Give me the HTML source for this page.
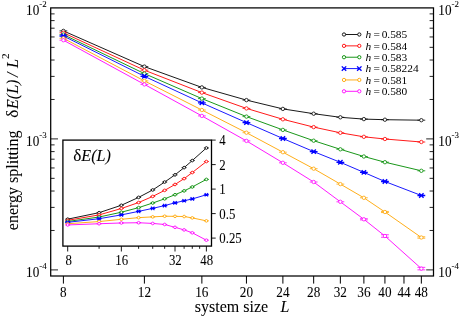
<!DOCTYPE html>
<html><head><meta charset="utf-8"><title>energy splitting</title>
<style>html,body{margin:0;padding:0;background:#fff;overflow:hidden}svg{display:block;will-change:transform;transform:translateZ(0)}text{font-family:"Liberation Serif",serif}</style>
</head><body>
<svg width="459" height="316" viewBox="0 0 459 316">
<rect width="459" height="316" fill="#fff"/>
<g fill="none">
<polyline points="63.40,30.90 144.40,66.60 201.87,87.40 246.45,100.10 282.88,108.90 313.67,113.70 340.35,117.30 363.88,119.10 384.93,119.70 421.35,120.20" stroke="#000" stroke-width="0.9"/>
<path d="M59.50 30.90H67.30" stroke="#000" stroke-width="0.8"/><circle cx="63.40" cy="30.90" r="1.7" fill="#fff" stroke="#000" stroke-width="0.8"/>
<path d="M140.50 66.60H148.30" stroke="#000" stroke-width="0.8"/><circle cx="144.40" cy="66.60" r="1.7" fill="#fff" stroke="#000" stroke-width="0.8"/>
<path d="M197.97 87.40H205.77" stroke="#000" stroke-width="0.8"/><circle cx="201.87" cy="87.40" r="1.7" fill="#fff" stroke="#000" stroke-width="0.8"/>
<path d="M242.55 100.10H250.35" stroke="#000" stroke-width="0.8"/><circle cx="246.45" cy="100.10" r="1.7" fill="#fff" stroke="#000" stroke-width="0.8"/>
<path d="M278.98 108.90H286.78" stroke="#000" stroke-width="0.8"/><circle cx="282.88" cy="108.90" r="1.7" fill="#fff" stroke="#000" stroke-width="0.8"/>
<path d="M309.77 113.70H317.57" stroke="#000" stroke-width="0.8"/><circle cx="313.67" cy="113.70" r="1.7" fill="#fff" stroke="#000" stroke-width="0.8"/>
<path d="M336.45 117.30H344.25" stroke="#000" stroke-width="0.8"/><circle cx="340.35" cy="117.30" r="1.7" fill="#fff" stroke="#000" stroke-width="0.8"/>
<path d="M359.98 119.10H367.78" stroke="#000" stroke-width="0.8"/><circle cx="363.88" cy="119.10" r="1.7" fill="#fff" stroke="#000" stroke-width="0.8"/>
<path d="M381.03 119.70H388.83" stroke="#000" stroke-width="0.8"/><circle cx="384.93" cy="119.70" r="1.7" fill="#fff" stroke="#000" stroke-width="0.8"/>
<path d="M417.45 120.20H425.25" stroke="#000" stroke-width="0.8"/><circle cx="421.35" cy="120.20" r="1.7" fill="#fff" stroke="#000" stroke-width="0.8"/>
<polyline points="63.40,32.80 144.40,70.20 201.87,92.60 246.45,108.40 282.88,119.30 313.67,127.10 340.35,132.80 363.88,136.80 384.93,139.00 421.35,142.00" stroke="#f00" stroke-width="0.9"/>
<path d="M59.50 32.80H67.30" stroke="#f00" stroke-width="0.8"/><circle cx="63.40" cy="32.80" r="1.7" fill="#fff" stroke="#f00" stroke-width="0.8"/>
<path d="M140.50 70.20H148.30" stroke="#f00" stroke-width="0.8"/><circle cx="144.40" cy="70.20" r="1.7" fill="#fff" stroke="#f00" stroke-width="0.8"/>
<path d="M197.97 92.60H205.77" stroke="#f00" stroke-width="0.8"/><circle cx="201.87" cy="92.60" r="1.7" fill="#fff" stroke="#f00" stroke-width="0.8"/>
<path d="M242.55 108.40H250.35" stroke="#f00" stroke-width="0.8"/><circle cx="246.45" cy="108.40" r="1.7" fill="#fff" stroke="#f00" stroke-width="0.8"/>
<path d="M278.98 119.30H286.78" stroke="#f00" stroke-width="0.8"/><circle cx="282.88" cy="119.30" r="1.7" fill="#fff" stroke="#f00" stroke-width="0.8"/>
<path d="M309.77 127.10H317.57" stroke="#f00" stroke-width="0.8"/><circle cx="313.67" cy="127.10" r="1.7" fill="#fff" stroke="#f00" stroke-width="0.8"/>
<path d="M336.45 132.80H344.25" stroke="#f00" stroke-width="0.8"/><circle cx="340.35" cy="132.80" r="1.7" fill="#fff" stroke="#f00" stroke-width="0.8"/>
<path d="M359.98 136.80H367.78" stroke="#f00" stroke-width="0.8"/><circle cx="363.88" cy="136.80" r="1.7" fill="#fff" stroke="#f00" stroke-width="0.8"/>
<path d="M381.03 139.00H388.83" stroke="#f00" stroke-width="0.8"/><circle cx="384.93" cy="139.00" r="1.7" fill="#fff" stroke="#f00" stroke-width="0.8"/>
<path d="M417.45 142.00H425.25" stroke="#f00" stroke-width="0.8"/><circle cx="421.35" cy="142.00" r="1.7" fill="#fff" stroke="#f00" stroke-width="0.8"/>
<polyline points="63.40,34.60 144.40,73.60 201.87,98.60 246.45,116.60 282.88,129.90 313.67,140.70 340.35,149.30 363.88,156.50 384.93,162.20 421.35,170.80" stroke="#008b00" stroke-width="0.9"/>
<path d="M59.50 34.60H67.30" stroke="#008b00" stroke-width="0.8"/><circle cx="63.40" cy="34.60" r="1.7" fill="#fff" stroke="#008b00" stroke-width="0.8"/>
<path d="M140.50 73.60H148.30" stroke="#008b00" stroke-width="0.8"/><circle cx="144.40" cy="73.60" r="1.7" fill="#fff" stroke="#008b00" stroke-width="0.8"/>
<path d="M197.97 98.60H205.77" stroke="#008b00" stroke-width="0.8"/><circle cx="201.87" cy="98.60" r="1.7" fill="#fff" stroke="#008b00" stroke-width="0.8"/>
<path d="M242.55 116.60H250.35" stroke="#008b00" stroke-width="0.8"/><circle cx="246.45" cy="116.60" r="1.7" fill="#fff" stroke="#008b00" stroke-width="0.8"/>
<path d="M278.98 129.90H286.78" stroke="#008b00" stroke-width="0.8"/><circle cx="282.88" cy="129.90" r="1.7" fill="#fff" stroke="#008b00" stroke-width="0.8"/>
<path d="M309.77 140.70H317.57" stroke="#008b00" stroke-width="0.8"/><circle cx="313.67" cy="140.70" r="1.7" fill="#fff" stroke="#008b00" stroke-width="0.8"/>
<path d="M336.45 149.30H344.25" stroke="#008b00" stroke-width="0.8"/><circle cx="340.35" cy="149.30" r="1.7" fill="#fff" stroke="#008b00" stroke-width="0.8"/>
<path d="M359.98 156.50H367.78" stroke="#008b00" stroke-width="0.8"/><circle cx="363.88" cy="156.50" r="1.7" fill="#fff" stroke="#008b00" stroke-width="0.8"/>
<path d="M381.03 162.20H388.83" stroke="#008b00" stroke-width="0.8"/><circle cx="384.93" cy="162.20" r="1.7" fill="#fff" stroke="#008b00" stroke-width="0.8"/>
<path d="M417.45 170.80H425.25" stroke="#008b00" stroke-width="0.8"/><circle cx="421.35" cy="170.80" r="1.7" fill="#fff" stroke="#008b00" stroke-width="0.8"/>
<polyline points="63.40,36.00 144.40,76.30 201.87,102.90 246.45,122.60 282.88,138.50 313.67,151.60 340.35,162.30 363.88,172.40 384.93,181.50 421.35,195.50" stroke="#00f" stroke-width="0.9"/>
<path d="M59.50 36.00H67.30M61.20 33.80L65.60 38.20M61.20 38.20L65.60 33.80" stroke="#00f" stroke-width="1.35" fill="none"/>
<path d="M140.50 76.30H148.30M142.20 74.10L146.60 78.50M142.20 78.50L146.60 74.10" stroke="#00f" stroke-width="1.35" fill="none"/>
<path d="M197.97 102.90H205.77M199.67 100.70L204.07 105.10M199.67 105.10L204.07 100.70" stroke="#00f" stroke-width="1.35" fill="none"/>
<path d="M242.55 122.60H250.35M244.25 120.40L248.65 124.80M244.25 124.80L248.65 120.40" stroke="#00f" stroke-width="1.35" fill="none"/>
<path d="M278.98 138.50H286.78M280.68 136.30L285.08 140.70M280.68 140.70L285.08 136.30" stroke="#00f" stroke-width="1.35" fill="none"/>
<path d="M309.77 151.60H317.57M311.47 149.40L315.87 153.80M311.47 153.80L315.87 149.40" stroke="#00f" stroke-width="1.35" fill="none"/>
<path d="M336.45 162.30H344.25M338.15 160.10L342.55 164.50M338.15 164.50L342.55 160.10" stroke="#00f" stroke-width="1.35" fill="none"/>
<path d="M359.98 172.40H367.78M361.68 170.20L366.08 174.60M361.68 174.60L366.08 170.20" stroke="#00f" stroke-width="1.35" fill="none"/>
<path d="M381.03 181.50H388.83M382.73 179.30L387.13 183.70M382.73 183.70L387.13 179.30" stroke="#00f" stroke-width="1.35" fill="none"/>
<path d="M417.45 195.50H425.25M419.15 193.30L423.55 197.70M419.15 197.70L423.55 193.30" stroke="#00f" stroke-width="1.35" fill="none"/>
<polyline points="63.40,38.30 144.40,80.90 201.87,110.00 246.45,132.70 282.88,152.20 313.67,168.70 340.35,184.10 363.88,197.80 384.93,212.00 421.35,237.50" stroke="#ffa500" stroke-width="0.9"/>
<path d="M59.50 38.30H67.30" stroke="#ffa500" stroke-width="0.8"/><circle cx="63.40" cy="38.30" r="1.7" fill="#fff" stroke="#ffa500" stroke-width="0.8"/>
<path d="M140.50 80.90H148.30" stroke="#ffa500" stroke-width="0.8"/><circle cx="144.40" cy="80.90" r="1.7" fill="#fff" stroke="#ffa500" stroke-width="0.8"/>
<path d="M197.97 110.00H205.77" stroke="#ffa500" stroke-width="0.8"/><circle cx="201.87" cy="110.00" r="1.7" fill="#fff" stroke="#ffa500" stroke-width="0.8"/>
<path d="M242.55 132.70H250.35" stroke="#ffa500" stroke-width="0.8"/><circle cx="246.45" cy="132.70" r="1.7" fill="#fff" stroke="#ffa500" stroke-width="0.8"/>
<path d="M278.98 152.20H286.78" stroke="#ffa500" stroke-width="0.8"/><circle cx="282.88" cy="152.20" r="1.7" fill="#fff" stroke="#ffa500" stroke-width="0.8"/>
<path d="M309.77 168.70H317.57" stroke="#ffa500" stroke-width="0.8"/><circle cx="313.67" cy="168.70" r="1.7" fill="#fff" stroke="#ffa500" stroke-width="0.8"/>
<path d="M336.45 184.10H344.25" stroke="#ffa500" stroke-width="0.8"/><circle cx="340.35" cy="184.10" r="1.7" fill="#fff" stroke="#ffa500" stroke-width="0.8"/>
<path d="M359.98 197.80H367.78" stroke="#ffa500" stroke-width="0.8"/><circle cx="363.88" cy="197.80" r="1.7" fill="#fff" stroke="#ffa500" stroke-width="0.8"/>
<path d="M381.03 211.45H388.83M381.03 212.55H388.83M384.93 211.45V212.55" stroke="#ffa500" stroke-width="0.8"/><circle cx="384.93" cy="212.00" r="1.7" fill="#fff" stroke="#ffa500" stroke-width="0.8"/>
<path d="M417.45 236.80H425.25M417.45 238.20H425.25M421.35 236.80V238.20" stroke="#ffa500" stroke-width="0.8"/><circle cx="421.35" cy="237.50" r="1.7" fill="#fff" stroke="#ffa500" stroke-width="0.8"/>
<polyline points="63.40,40.20 144.40,84.40 201.87,115.90 246.45,140.90 282.88,162.80 313.67,182.00 340.35,201.80 363.88,219.30 384.93,236.00 421.35,268.60" stroke="#f0f" stroke-width="0.9"/>
<path d="M59.50 40.20H67.30" stroke="#f0f" stroke-width="0.8"/><circle cx="63.40" cy="40.20" r="1.7" fill="#fff" stroke="#f0f" stroke-width="0.8"/>
<path d="M140.50 84.40H148.30" stroke="#f0f" stroke-width="0.8"/><circle cx="144.40" cy="84.40" r="1.7" fill="#fff" stroke="#f0f" stroke-width="0.8"/>
<path d="M197.97 115.90H205.77" stroke="#f0f" stroke-width="0.8"/><circle cx="201.87" cy="115.90" r="1.7" fill="#fff" stroke="#f0f" stroke-width="0.8"/>
<path d="M242.55 140.90H250.35" stroke="#f0f" stroke-width="0.8"/><circle cx="246.45" cy="140.90" r="1.7" fill="#fff" stroke="#f0f" stroke-width="0.8"/>
<path d="M278.98 162.80H286.78" stroke="#f0f" stroke-width="0.8"/><circle cx="282.88" cy="162.80" r="1.7" fill="#fff" stroke="#f0f" stroke-width="0.8"/>
<path d="M309.77 182.00H317.57" stroke="#f0f" stroke-width="0.8"/><circle cx="313.67" cy="182.00" r="1.7" fill="#fff" stroke="#f0f" stroke-width="0.8"/>
<path d="M336.45 201.80H344.25" stroke="#f0f" stroke-width="0.8"/><circle cx="340.35" cy="201.80" r="1.7" fill="#fff" stroke="#f0f" stroke-width="0.8"/>
<path d="M359.98 218.70H367.78M359.98 219.90H367.78M363.88 218.70V219.90" stroke="#f0f" stroke-width="0.8"/><circle cx="363.88" cy="219.30" r="1.7" fill="#fff" stroke="#f0f" stroke-width="0.8"/>
<path d="M381.03 234.75H388.83M381.03 237.25H388.83M384.93 234.75V237.25" stroke="#f0f" stroke-width="0.8"/><circle cx="384.93" cy="236.00" r="1.7" fill="#fff" stroke="#f0f" stroke-width="0.8"/>
<path d="M417.45 267.35H425.25M417.45 269.85H425.25M421.35 267.35V269.85" stroke="#f0f" stroke-width="0.8"/><circle cx="421.35" cy="268.60" r="1.7" fill="#fff" stroke="#f0f" stroke-width="0.8"/>
</g>
<rect x="62.9" y="140.1" width="148.60" height="106.00" fill="#fff"/>
<g fill="none">
<polyline points="67.70,219.16 99.08,212.68 121.35,205.27 138.62,197.38 152.73,189.96 164.66,182.05 175.00,174.84 184.12,167.63 192.27,160.56 206.38,147.98" stroke="#000" stroke-width="0.9"/>
<path d="M65.20 219.16H70.20" stroke="#000" stroke-width="0.85"/><circle cx="67.70" cy="219.16" r="1.35" fill="#fff" stroke="#000" stroke-width="0.85"/>
<path d="M96.58 212.68H101.58" stroke="#000" stroke-width="0.85"/><circle cx="99.08" cy="212.68" r="1.35" fill="#fff" stroke="#000" stroke-width="0.85"/>
<path d="M118.85 205.27H123.85" stroke="#000" stroke-width="0.85"/><circle cx="121.35" cy="205.27" r="1.35" fill="#fff" stroke="#000" stroke-width="0.85"/>
<path d="M136.12 197.38H141.12" stroke="#000" stroke-width="0.85"/><circle cx="138.62" cy="197.38" r="1.35" fill="#fff" stroke="#000" stroke-width="0.85"/>
<path d="M150.23 189.96H155.23" stroke="#000" stroke-width="0.85"/><circle cx="152.73" cy="189.96" r="1.35" fill="#fff" stroke="#000" stroke-width="0.85"/>
<path d="M162.16 182.05H167.16" stroke="#000" stroke-width="0.85"/><circle cx="164.66" cy="182.05" r="1.35" fill="#fff" stroke="#000" stroke-width="0.85"/>
<path d="M172.50 174.84H177.50" stroke="#000" stroke-width="0.85"/><circle cx="175.00" cy="174.84" r="1.35" fill="#fff" stroke="#000" stroke-width="0.85"/>
<path d="M181.62 167.63H186.62" stroke="#000" stroke-width="0.85"/><circle cx="184.12" cy="167.63" r="1.35" fill="#fff" stroke="#000" stroke-width="0.85"/>
<path d="M189.77 160.56H194.77" stroke="#000" stroke-width="0.85"/><circle cx="192.27" cy="160.56" r="1.35" fill="#fff" stroke="#000" stroke-width="0.85"/>
<path d="M203.88 147.98H208.88" stroke="#000" stroke-width="0.85"/><circle cx="206.38" cy="147.98" r="1.35" fill="#fff" stroke="#000" stroke-width="0.85"/>
<polyline points="67.70,220.34 99.08,214.92 121.35,208.50 138.62,202.54 152.73,196.42 164.66,190.37 175.00,184.47 184.12,178.63 192.27,172.55 206.38,161.52" stroke="#f00" stroke-width="0.9"/>
<path d="M65.20 220.34H70.20" stroke="#f00" stroke-width="0.85"/><circle cx="67.70" cy="220.34" r="1.35" fill="#fff" stroke="#f00" stroke-width="0.85"/>
<path d="M96.58 214.92H101.58" stroke="#f00" stroke-width="0.85"/><circle cx="99.08" cy="214.92" r="1.35" fill="#fff" stroke="#f00" stroke-width="0.85"/>
<path d="M118.85 208.50H123.85" stroke="#f00" stroke-width="0.85"/><circle cx="121.35" cy="208.50" r="1.35" fill="#fff" stroke="#f00" stroke-width="0.85"/>
<path d="M136.12 202.54H141.12" stroke="#f00" stroke-width="0.85"/><circle cx="138.62" cy="202.54" r="1.35" fill="#fff" stroke="#f00" stroke-width="0.85"/>
<path d="M150.23 196.42H155.23" stroke="#f00" stroke-width="0.85"/><circle cx="152.73" cy="196.42" r="1.35" fill="#fff" stroke="#f00" stroke-width="0.85"/>
<path d="M162.16 190.37H167.16" stroke="#f00" stroke-width="0.85"/><circle cx="164.66" cy="190.37" r="1.35" fill="#fff" stroke="#f00" stroke-width="0.85"/>
<path d="M172.50 184.47H177.50" stroke="#f00" stroke-width="0.85"/><circle cx="175.00" cy="184.47" r="1.35" fill="#fff" stroke="#f00" stroke-width="0.85"/>
<path d="M181.62 178.63H186.62" stroke="#f00" stroke-width="0.85"/><circle cx="184.12" cy="178.63" r="1.35" fill="#fff" stroke="#f00" stroke-width="0.85"/>
<path d="M189.77 172.55H194.77" stroke="#f00" stroke-width="0.85"/><circle cx="192.27" cy="172.55" r="1.35" fill="#fff" stroke="#f00" stroke-width="0.85"/>
<path d="M203.88 161.52H208.88" stroke="#f00" stroke-width="0.85"/><circle cx="206.38" cy="161.52" r="1.35" fill="#fff" stroke="#f00" stroke-width="0.85"/>
<polyline points="67.70,221.46 99.08,217.03 121.35,212.22 138.62,207.63 152.73,203.01 164.66,198.82 175.00,194.72 184.12,190.87 192.27,186.96 206.38,179.42" stroke="#008b00" stroke-width="0.9"/>
<path d="M65.20 221.46H70.20" stroke="#008b00" stroke-width="0.85"/><circle cx="67.70" cy="221.46" r="1.35" fill="#fff" stroke="#008b00" stroke-width="0.85"/>
<path d="M96.58 217.03H101.58" stroke="#008b00" stroke-width="0.85"/><circle cx="99.08" cy="217.03" r="1.35" fill="#fff" stroke="#008b00" stroke-width="0.85"/>
<path d="M118.85 212.22H123.85" stroke="#008b00" stroke-width="0.85"/><circle cx="121.35" cy="212.22" r="1.35" fill="#fff" stroke="#008b00" stroke-width="0.85"/>
<path d="M136.12 207.63H141.12" stroke="#008b00" stroke-width="0.85"/><circle cx="138.62" cy="207.63" r="1.35" fill="#fff" stroke="#008b00" stroke-width="0.85"/>
<path d="M150.23 203.01H155.23" stroke="#008b00" stroke-width="0.85"/><circle cx="152.73" cy="203.01" r="1.35" fill="#fff" stroke="#008b00" stroke-width="0.85"/>
<path d="M162.16 198.82H167.16" stroke="#008b00" stroke-width="0.85"/><circle cx="164.66" cy="198.82" r="1.35" fill="#fff" stroke="#008b00" stroke-width="0.85"/>
<path d="M172.50 194.72H177.50" stroke="#008b00" stroke-width="0.85"/><circle cx="175.00" cy="194.72" r="1.35" fill="#fff" stroke="#008b00" stroke-width="0.85"/>
<path d="M181.62 190.87H186.62" stroke="#008b00" stroke-width="0.85"/><circle cx="184.12" cy="190.87" r="1.35" fill="#fff" stroke="#008b00" stroke-width="0.85"/>
<path d="M189.77 186.96H194.77" stroke="#008b00" stroke-width="0.85"/><circle cx="192.27" cy="186.96" r="1.35" fill="#fff" stroke="#008b00" stroke-width="0.85"/>
<path d="M203.88 179.42H208.88" stroke="#008b00" stroke-width="0.85"/><circle cx="206.38" cy="179.42" r="1.35" fill="#fff" stroke="#008b00" stroke-width="0.85"/>
<polyline points="67.70,222.33 99.08,218.71 121.35,214.90 138.62,211.36 152.73,208.35 164.66,205.59 175.00,202.80 184.12,200.75 192.27,198.95 206.38,194.76" stroke="#00f" stroke-width="0.9"/>
<path d="M65.10 222.33H70.30M66.00 220.63L69.40 224.03M66.00 224.03L69.40 220.63" stroke="#00f" stroke-width="1.15" fill="none"/>
<path d="M96.48 218.71H101.68M97.38 217.01L100.78 220.41M97.38 220.41L100.78 217.01" stroke="#00f" stroke-width="1.15" fill="none"/>
<path d="M118.75 214.90H123.95M119.65 213.20L123.05 216.60M119.65 216.60L123.05 213.20" stroke="#00f" stroke-width="1.15" fill="none"/>
<path d="M136.02 211.36H141.22M136.92 209.66L140.32 213.06M136.92 213.06L140.32 209.66" stroke="#00f" stroke-width="1.15" fill="none"/>
<path d="M150.13 208.35H155.33M151.03 206.65L154.43 210.05M151.03 210.05L154.43 206.65" stroke="#00f" stroke-width="1.15" fill="none"/>
<path d="M162.06 205.59H167.26M162.96 203.89L166.36 207.29M162.96 207.29L166.36 203.89" stroke="#00f" stroke-width="1.15" fill="none"/>
<path d="M172.40 202.80H177.60M173.30 201.10L176.70 204.50M173.30 204.50L176.70 201.10" stroke="#00f" stroke-width="1.15" fill="none"/>
<path d="M181.52 200.75H186.72M182.42 199.05L185.82 202.45M182.42 202.45L185.82 199.05" stroke="#00f" stroke-width="1.15" fill="none"/>
<path d="M189.67 198.95H194.87M190.57 197.25L193.97 200.65M190.57 200.65L193.97 197.25" stroke="#00f" stroke-width="1.15" fill="none"/>
<path d="M203.78 194.76H208.98M204.68 193.06L208.08 196.46M204.68 196.46L208.08 193.06" stroke="#00f" stroke-width="1.15" fill="none"/>
<polyline points="67.70,223.76 99.08,221.56 121.35,219.31 138.62,217.64 152.73,216.86 164.66,216.22 175.00,216.34 184.12,216.53 192.27,217.90 206.38,220.86" stroke="#ffa500" stroke-width="0.9"/>
<path d="M65.20 223.76H70.20" stroke="#ffa500" stroke-width="0.85"/><circle cx="67.70" cy="223.76" r="1.35" fill="#fff" stroke="#ffa500" stroke-width="0.85"/>
<path d="M96.58 221.56H101.58" stroke="#ffa500" stroke-width="0.85"/><circle cx="99.08" cy="221.56" r="1.35" fill="#fff" stroke="#ffa500" stroke-width="0.85"/>
<path d="M118.85 219.31H123.85" stroke="#ffa500" stroke-width="0.85"/><circle cx="121.35" cy="219.31" r="1.35" fill="#fff" stroke="#ffa500" stroke-width="0.85"/>
<path d="M136.12 217.64H141.12" stroke="#ffa500" stroke-width="0.85"/><circle cx="138.62" cy="217.64" r="1.35" fill="#fff" stroke="#ffa500" stroke-width="0.85"/>
<path d="M150.23 216.86H155.23" stroke="#ffa500" stroke-width="0.85"/><circle cx="152.73" cy="216.86" r="1.35" fill="#fff" stroke="#ffa500" stroke-width="0.85"/>
<path d="M162.16 216.22H167.16" stroke="#ffa500" stroke-width="0.85"/><circle cx="164.66" cy="216.22" r="1.35" fill="#fff" stroke="#ffa500" stroke-width="0.85"/>
<path d="M172.50 216.34H177.50" stroke="#ffa500" stroke-width="0.85"/><circle cx="175.00" cy="216.34" r="1.35" fill="#fff" stroke="#ffa500" stroke-width="0.85"/>
<path d="M181.62 216.53H186.62" stroke="#ffa500" stroke-width="0.85"/><circle cx="184.12" cy="216.53" r="1.35" fill="#fff" stroke="#ffa500" stroke-width="0.85"/>
<path d="M189.77 217.90H194.77" stroke="#ffa500" stroke-width="0.85"/><circle cx="192.27" cy="217.90" r="1.35" fill="#fff" stroke="#ffa500" stroke-width="0.85"/>
<path d="M203.88 220.86H208.88" stroke="#ffa500" stroke-width="0.85"/><circle cx="206.38" cy="220.86" r="1.35" fill="#fff" stroke="#ffa500" stroke-width="0.85"/>
<polyline points="67.70,224.94 99.08,223.74 121.35,222.97 138.62,222.73 152.73,223.45 164.66,224.48 175.00,227.34 184.12,229.89 192.27,232.81 206.38,240.18" stroke="#f0f" stroke-width="0.9"/>
<path d="M65.20 224.94H70.20" stroke="#f0f" stroke-width="0.85"/><circle cx="67.70" cy="224.94" r="1.35" fill="#fff" stroke="#f0f" stroke-width="0.85"/>
<path d="M96.58 223.74H101.58" stroke="#f0f" stroke-width="0.85"/><circle cx="99.08" cy="223.74" r="1.35" fill="#fff" stroke="#f0f" stroke-width="0.85"/>
<path d="M118.85 222.97H123.85" stroke="#f0f" stroke-width="0.85"/><circle cx="121.35" cy="222.97" r="1.35" fill="#fff" stroke="#f0f" stroke-width="0.85"/>
<path d="M136.12 222.73H141.12" stroke="#f0f" stroke-width="0.85"/><circle cx="138.62" cy="222.73" r="1.35" fill="#fff" stroke="#f0f" stroke-width="0.85"/>
<path d="M150.23 223.45H155.23" stroke="#f0f" stroke-width="0.85"/><circle cx="152.73" cy="223.45" r="1.35" fill="#fff" stroke="#f0f" stroke-width="0.85"/>
<path d="M162.16 224.48H167.16" stroke="#f0f" stroke-width="0.85"/><circle cx="164.66" cy="224.48" r="1.35" fill="#fff" stroke="#f0f" stroke-width="0.85"/>
<path d="M172.50 227.34H177.50" stroke="#f0f" stroke-width="0.85"/><circle cx="175.00" cy="227.34" r="1.35" fill="#fff" stroke="#f0f" stroke-width="0.85"/>
<path d="M181.62 229.89H186.62" stroke="#f0f" stroke-width="0.85"/><circle cx="184.12" cy="229.89" r="1.35" fill="#fff" stroke="#f0f" stroke-width="0.85"/>
<path d="M189.77 232.81H194.77" stroke="#f0f" stroke-width="0.85"/><circle cx="192.27" cy="232.81" r="1.35" fill="#fff" stroke="#f0f" stroke-width="0.85"/>
<path d="M203.88 240.18H208.88" stroke="#f0f" stroke-width="0.85"/><circle cx="206.38" cy="240.18" r="1.35" fill="#fff" stroke="#f0f" stroke-width="0.85"/>
</g>
<g stroke="#000" fill="none">
<path d="M50.7 138.90h7.3M433.5 138.90h-7.3M50.7 99.47h3.9M433.5 99.47h-3.9M50.7 76.40h3.9M433.5 76.40h-3.9M50.7 60.03h3.9M433.5 60.03h-3.9M50.7 47.33h3.9M433.5 47.33h-3.9M50.7 36.96h3.9M433.5 36.96h-3.9M50.7 28.19h3.9M433.5 28.19h-3.9M50.7 20.60h3.9M433.5 20.60h-3.9M50.7 13.89h3.9M433.5 13.89h-3.9M50.7 269.90h7.3M433.5 269.90h-7.3M50.7 230.47h3.9M433.5 230.47h-3.9M50.7 207.40h3.9M433.5 207.40h-3.9M50.7 191.03h3.9M433.5 191.03h-3.9M50.7 178.33h3.9M433.5 178.33h-3.9M50.7 167.96h3.9M433.5 167.96h-3.9M50.7 159.19h3.9M433.5 159.19h-3.9M50.7 151.60h3.9M433.5 151.60h-3.9M50.7 144.89h3.9M433.5 144.89h-3.9" stroke-width="0.95" stroke="#1a1a1a"/>
<path d="M63.40 276.0v7.6M144.40 276.0v7.6M201.87 276.0v7.6M246.45 276.0v7.6M282.88 276.0v7.6M313.67 276.0v7.6M340.35 276.0v7.6M363.88 276.0v7.6M384.93 276.0v7.6M403.97 276.0v7.6M421.35 276.0v7.6" stroke-width="1"/>
<rect x="50.7" y="7.9" width="382.80" height="268.10" stroke-width="1.25"/>
</g>
<g stroke="#000" fill="none">
<path d="M211.5 140.10h4.2M211.5 164.60h4.2M211.5 189.10h4.2M211.5 213.60h4.2M211.5 238.10h4.2M67.70 246.1v5.4M121.35 246.1v5.4M175.00 246.1v5.4M206.38 246.1v5.4M99.08 246.1v2.7M138.62 246.1v2.7M152.73 246.1v2.7M164.66 246.1v2.7M184.12 246.1v2.7M192.27 246.1v2.7M199.65 246.1v2.7" stroke-width="0.9"/>
<rect x="62.9" y="140.1" width="148.60" height="106.00" stroke-width="1.3"/>
</g>
<g font-family="Liberation Serif, serif" fill="#000" stroke="#000" stroke-width="0.05">
<text transform="translate(26.1 15.40) scale(1 1.03)" font-size="13.2">10<tspan font-size="8.9" dy="-8.4">-2</tspan></text>
<text transform="translate(438.3 15.40) scale(1 1.03)" font-size="13.2">10<tspan font-size="8.9" dy="-8.4">-2</tspan></text>
<text transform="translate(26.1 146.40) scale(1 1.03)" font-size="13.2">10<tspan font-size="8.9" dy="-8.4">-3</tspan></text>
<text transform="translate(438.3 146.40) scale(1 1.03)" font-size="13.2">10<tspan font-size="8.9" dy="-8.4">-3</tspan></text>
<text transform="translate(26.1 277.40) scale(1 1.03)" font-size="13.2">10<tspan font-size="8.9" dy="-8.4">-4</tspan></text>
<text transform="translate(438.3 277.40) scale(1 1.03)" font-size="13.2">10<tspan font-size="8.9" dy="-8.4">-4</tspan></text>
<text transform="translate(63.40 296.9) scale(1 1.03)" font-size="13.2" text-anchor="middle">8</text>
<text transform="translate(144.40 296.9) scale(1 1.03)" font-size="13.2" text-anchor="middle">12</text>
<text transform="translate(201.87 296.9) scale(1 1.03)" font-size="13.2" text-anchor="middle">16</text>
<text transform="translate(246.45 296.9) scale(1 1.03)" font-size="13.2" text-anchor="middle">20</text>
<text transform="translate(282.88 296.9) scale(1 1.03)" font-size="13.2" text-anchor="middle">24</text>
<text transform="translate(313.67 296.9) scale(1 1.03)" font-size="13.2" text-anchor="middle">28</text>
<text transform="translate(340.35 296.9) scale(1 1.03)" font-size="13.2" text-anchor="middle">32</text>
<text transform="translate(363.88 296.9) scale(1 1.03)" font-size="13.2" text-anchor="middle">36</text>
<text transform="translate(384.93 296.9) scale(1 1.03)" font-size="13.2" text-anchor="middle">40</text>
<text transform="translate(403.97 296.9) scale(1 1.03)" font-size="13.2" text-anchor="middle">44</text>
<text transform="translate(421.35 296.9) scale(1 1.03)" font-size="13.2" text-anchor="middle">48</text>
<text transform="translate(219.3 145.10) scale(1 1.07)" font-size="12.8">4</text>
<text transform="translate(219.3 169.60) scale(1 1.07)" font-size="12.8">2</text>
<text transform="translate(219.3 194.10) scale(1 1.07)" font-size="12.8">1</text>
<text transform="translate(219.3 218.60) scale(1 1.07)" font-size="12.8">0.5</text>
<text transform="translate(219.3 243.10) scale(1 1.07)" font-size="12.8">0.25</text>
<text transform="translate(68.60 265.4) scale(1 1.07)" font-size="12.8" text-anchor="middle">8</text>
<text transform="translate(121.65 265.4) scale(1 1.07)" font-size="12.8" text-anchor="middle">16</text>
<text transform="translate(175.30 265.4) scale(1 1.07)" font-size="12.8" text-anchor="middle">32</text>
<text transform="translate(206.68 265.4) scale(1 1.07)" font-size="12.8" text-anchor="middle">48</text>
<text x="73.2" y="160.5" font-size="17.2">δ<tspan font-style="italic" font-size="16.2">E(L)</tspan></text>
<text x="194.8" y="311.6" font-size="16">system size</text>
<text x="280.6" y="311.6" font-size="16" font-style="italic">L</text>
<text transform="translate(18.4 230.2) rotate(-90)" font-size="16">energy splitting</text>
<text transform="translate(18.4 117.8) rotate(-90)" font-size="17.2">δ</text>
<text transform="translate(18.4 108.9) rotate(-90)" font-size="16" font-style="italic">E(L)</text>
<text transform="translate(18.4 76.9) rotate(-90)" font-size="16" font-style="italic">/</text>
<text transform="translate(18.4 68.0) rotate(-90)" font-size="16" font-style="italic">L</text>
<text transform="translate(8.6 58.9) rotate(-90)" font-size="11.4">2</text>
<path d="M344.0 34.50H359.3" stroke="#000" stroke-width="0.9"/>
<circle cx="344.0" cy="34.50" r="1.65" fill="#fff" stroke="#000" stroke-width="0.9"/>
<circle cx="359.3" cy="34.50" r="1.65" fill="#fff" stroke="#000" stroke-width="0.9"/>
<text x="365.6" y="38.20" font-size="11.4" stroke-width="0"><tspan font-style="italic">h</tspan><tspan dx="-0.7"> =</tspan><tspan dx="-1.1"> 0.585</tspan></text>
<path d="M344.0 45.86H359.3" stroke="#f00" stroke-width="0.9"/>
<circle cx="344.0" cy="45.86" r="1.65" fill="#fff" stroke="#f00" stroke-width="0.9"/>
<circle cx="359.3" cy="45.86" r="1.65" fill="#fff" stroke="#f00" stroke-width="0.9"/>
<text x="365.6" y="49.56" font-size="11.4" stroke-width="0"><tspan font-style="italic">h</tspan><tspan dx="-0.7"> =</tspan><tspan dx="-1.1"> 0.584</tspan></text>
<path d="M344.0 57.22H359.3" stroke="#008b00" stroke-width="0.9"/>
<circle cx="344.0" cy="57.22" r="1.65" fill="#fff" stroke="#008b00" stroke-width="0.9"/>
<circle cx="359.3" cy="57.22" r="1.65" fill="#fff" stroke="#008b00" stroke-width="0.9"/>
<text x="365.6" y="60.92" font-size="11.4" stroke-width="0"><tspan font-style="italic">h</tspan><tspan dx="-0.7"> =</tspan><tspan dx="-1.1"> 0.583</tspan></text>
<path d="M344.0 68.58H359.3" stroke="#00f" stroke-width="0.9"/>
<path d="M341.8 66.38L346.2 70.78M341.8 70.78L346.2 66.38" stroke="#00f" stroke-width="1.4"/>
<path d="M357.1 66.38L361.5 70.78M357.1 70.78L361.5 66.38" stroke="#00f" stroke-width="1.4"/>
<text x="365.6" y="72.28" font-size="11.4" stroke-width="0"><tspan font-style="italic">h</tspan><tspan dx="-0.7"> =</tspan><tspan dx="-1.1"> 0.58224</tspan></text>
<path d="M344.0 79.94H359.3" stroke="#ffa500" stroke-width="0.9"/>
<circle cx="344.0" cy="79.94" r="1.65" fill="#fff" stroke="#ffa500" stroke-width="0.9"/>
<circle cx="359.3" cy="79.94" r="1.65" fill="#fff" stroke="#ffa500" stroke-width="0.9"/>
<text x="365.6" y="83.64" font-size="11.4" stroke-width="0"><tspan font-style="italic">h</tspan><tspan dx="-0.7"> =</tspan><tspan dx="-1.1"> 0.581</tspan></text>
<path d="M344.0 91.30H359.3" stroke="#f0f" stroke-width="0.9"/>
<circle cx="344.0" cy="91.30" r="1.65" fill="#fff" stroke="#f0f" stroke-width="0.9"/>
<circle cx="359.3" cy="91.30" r="1.65" fill="#fff" stroke="#f0f" stroke-width="0.9"/>
<text x="365.6" y="95.00" font-size="11.4" stroke-width="0"><tspan font-style="italic">h</tspan><tspan dx="-0.7"> =</tspan><tspan dx="-1.1"> 0.580</tspan></text>
</g>
</svg>
</body></html>
